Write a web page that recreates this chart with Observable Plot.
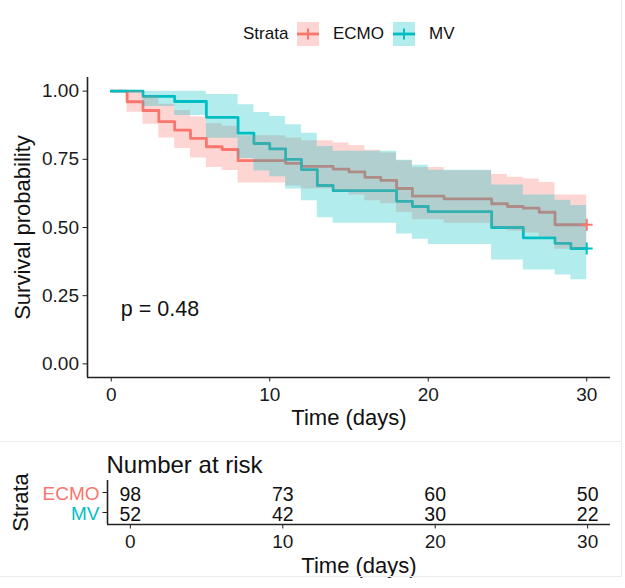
<!DOCTYPE html>
<html><head><meta charset="utf-8">
<script src="https://cdn.jsdelivr.net/npm/d3@7"></script>
<script src="https://cdn.jsdelivr.net/npm/@observablehq/plot@0.6"></script>
<style>
body{margin:0;background:#fff;}
#wrap{position:relative;width:625px;height:588px;font-family:"Liberation Sans",Arial,Helvetica,sans-serif;overflow:hidden;background:#fff;}
.abs{position:absolute;}
.lg{position:absolute;top:24px;line-height:20px;font-size:17px;color:#111;white-space:nowrap;}
.line{position:absolute;background:#ececec;z-index:5;}
</style></head>
<body><div id="wrap">
<div id="main" class="abs" style="left:0;top:0"></div>
<div id="table" class="abs" style="left:0;top:441px"></div>
<div id="legend" class="abs" style="left:0;top:0;width:625px;height:60px;z-index:4"></div>
<div class="line" style="left:0;top:441px;width:621px;height:1px"></div>
<div class="line" style="left:0;top:576px;width:621px;height:1px"></div>
<div class="line" style="left:621px;top:0;width:1px;height:577px"></div>
</div>
<script>
// ---- data ----
const strata = ["ECMO", "MV"];
const colors = ["#F8766D", "#00BFC4"];

const ecmoTime  = [0, 1, 2, 3, 4, 5, 6, 7, 8, 11, 12, 14, 15, 16, 17, 18, 19, 21, 24, 25, 26, 27, 28, 30];
const ecmoSurv  = [1, 0.961, 0.929, 0.888, 0.857, 0.827, 0.796, 0.786, 0.745, 0.735, 0.724, 0.714, 0.704, 0.684, 0.673, 0.643, 0.615, 0.605, 0.587, 0.577, 0.571, 0.556, 0.510, 0.510];
const ecmoLower = [1, 0.923, 0.879, 0.828, 0.790, 0.755, 0.720, 0.709, 0.663, 0.652, 0.641, 0.630, 0.619, 0.598, 0.587, 0.555, 0.528, 0.516, 0.496, 0.486, 0.480, 0.464, 0.420, 0.420];
const ecmoUpper = [1, 1.000, 0.982, 0.952, 0.929, 0.905, 0.880, 0.871, 0.836, 0.828, 0.818, 0.810, 0.801, 0.783, 0.773, 0.745, 0.720, 0.708, 0.694, 0.684, 0.678, 0.665, 0.619, 0.619];

const mvTime  = [0, 2, 4, 6, 8, 9, 10, 11, 12, 13, 14, 18, 19, 20, 24, 26, 28, 29, 30];
const mvSurv  = [1, 0.981, 0.962, 0.904, 0.846, 0.808, 0.788, 0.750, 0.712, 0.654, 0.635, 0.596, 0.577, 0.558, 0.500, 0.462, 0.442, 0.423, 0.423];
const mvLower = [1, 0.944, 0.911, 0.827, 0.753, 0.707, 0.686, 0.641, 0.598, 0.536, 0.516, 0.476, 0.457, 0.438, 0.381, 0.344, 0.326, 0.308, 0.308];
const mvUpper = [1, 1.000, 1.000, 0.988, 0.950, 0.922, 0.907, 0.877, 0.846, 0.797, 0.780, 0.747, 0.728, 0.710, 0.656, 0.619, 0.600, 0.581, 0.581];

const riskTimes = [0, 10, 20, 30];
const ecmoRisk = [98, 73, 60, 50];
const mvRisk = [52, 42, 30, 22];

const xTicks = [0, 10, 20, 30];
const yTicks = [0, 0.25, 0.5, 0.75, 1];
const pLabel = "p = 0.48";
const pPos = {x: 0.6, y: 0.2};

// ---- build ----
const font = '"Liberation Sans", Arial, Helvetica, sans-serif';
const rows = (name, t, s, lo, hi) => t.map((d, i) => ({strata: name, time: d, surv: s[i], lower: lo[i], upper: hi[i]}));
const ecmo = rows("ECMO", ecmoTime, ecmoSurv, ecmoLower, ecmoUpper);
const mv = rows("MV", mvTime, mvSurv, mvLower, mvUpper);
const axisCol = "#222";

const main = Plot.plot({
  width: 625, height: 440,
  marginTop: 77, marginBottom: 63, marginLeft: 87, marginRight: 15,
  style: {fontFamily: font, background: "transparent", color: "#1a1a1a", overflow: "visible"},
  x: {domain: [-1.5, 31.5]},
  y: {domain: [-0.05, 1.05]},
  marks: [
    Plot.line(ecmo, {x: "time", y: "surv", curve: "step-after", stroke: colors[0], strokeWidth: 2.8}),
    Plot.line(mv, {x: "time", y: "surv", curve: "step-after", stroke: colors[1], strokeWidth: 2.8}),
    Plot.areaY(ecmo, {x: "time", y1: "lower", y2: "upper", curve: "step-after", fill: colors[0], fillOpacity: 0.3}),
    Plot.areaY(mv, {x: "time", y1: "lower", y2: "upper", curve: "step-after", fill: colors[1], fillOpacity: 0.3}),
    Plot.dot([ecmo[ecmo.length - 1]], {x: "time", y: "surv", symbol: "plus", r: 3.9, stroke: colors[0], strokeWidth: 2}),
    Plot.dot([mv[mv.length - 1]], {x: "time", y: "surv", symbol: "plus", r: 3.9, stroke: colors[1], strokeWidth: 2}),
    Plot.ruleX([-1.5], {stroke: axisCol, strokeWidth: 1.6}),
    Plot.ruleY([-0.05], {stroke: axisCol, strokeWidth: 1.6}),
    Plot.axisY({ticks: yTicks, tickFormat: d3.format(".2f"), tickSize: 4.5, tickPadding: 4, fontSize: 19, label: null, stroke: axisCol, fill: "#1a1a1a"}),
    Plot.axisX({ticks: xTicks, tickSize: 4.5, tickPadding: 5, fontSize: 19, label: null, stroke: axisCol, fill: "#1a1a1a"}),
    Plot.text(["Survival probability"], {frameAnchor: "left", rotate: -90, textAnchor: "middle", lineAnchor: "middle", dx: -65, fontSize: 22, fill: "#111"}),
    Plot.text(["Time (days)"], {frameAnchor: "bottom", textAnchor: "middle", lineAnchor: "middle", dy: 40, fontSize: 22, fill: "#111"}),
    Plot.text([pPos], {x: "x", y: "y", text: () => pLabel, textAnchor: "start", fontSize: 21.5, fill: "#111"})
  ]
});
document.getElementById("main").appendChild(main);

// risk table
const riskRows = [];
strata.forEach((s, si) => riskTimes.forEach((t, i) => riskRows.push({strata: s, idx: si, time: t, n: (si === 0 ? ecmoRisk : mvRisk)[i]})));

const table = Plot.plot({
  width: 625, height: 147,
  marginTop: 39, marginBottom: 64, marginLeft: 107, marginRight: 15,
  style: {fontFamily: font, background: "transparent", color: "#1a1a1a", overflow: "visible"},
  x: {domain: [-1.5, 31.5]},
  y: {domain: [-0.6, strata.length - 1 + 0.6], reverse: true},
  marks: [
    Plot.ruleX([-1.5], {stroke: axisCol, strokeWidth: 1.6}),
    Plot.ruleY([strata.length - 1 + 0.6], {stroke: axisCol, strokeWidth: 1.6}),
    Plot.axisY({ticks: strata.map((s, i) => i), tickFormat: () => "", tickSize: 4.5, stroke: axisCol, label: null}),
    Plot.axisX({ticks: xTicks, tickSize: 4.5, tickPadding: 5, fontSize: 19, label: null, stroke: axisCol, fill: "#1a1a1a"}),
    Plot.text(riskRows, {x: "time", y: "idx", text: d => String(d.n), fontSize: 19.5, dy: 2, fill: "#111"}),
    ...strata.map((s, i) => Plot.text([{s, i}], {frameAnchor: "left", y: "i", text: "s", textAnchor: "end", lineAnchor: "middle", dx: -8, dy: 1, fontSize: 19, fill: colors[i]})),
    Plot.text(["Strata"], {frameAnchor: "left", rotate: -90, textAnchor: "middle", lineAnchor: "middle", dx: -86.5, fontSize: 22, fill: "#111"}),
    Plot.text(["Number at risk"], {frameAnchor: "top-left", textAnchor: "start", lineAnchor: "bottom", dx: -1, dy: -8, fontSize: 24, fill: "#111"}),
    Plot.text(["Time (days)"], {frameAnchor: "bottom", textAnchor: "middle", lineAnchor: "middle", dy: 41, fontSize: 22, fill: "#111"})
  ]
});
document.getElementById("table").appendChild(table);

// legend
const legend = document.getElementById("legend");
function addText(txt, left) {
  const s = document.createElement("div");
  s.className = "lg"; s.style.left = left + "px"; s.textContent = txt;
  legend.appendChild(s);
}
function addKey(color, left) {
  const ns = "http://www.w3.org/2000/svg";
  const svg = document.createElementNS(ns, "svg");
  svg.setAttribute("width", 22); svg.setAttribute("height", 24);
  svg.style.position = "absolute"; svg.style.left = left + "px"; svg.style.top = "22px";
  const r = document.createElementNS(ns, "rect");
  r.setAttribute("width", 22); r.setAttribute("height", 24); r.setAttribute("fill", color); r.setAttribute("fill-opacity", 0.3);
  const h = document.createElementNS(ns, "line");
  h.setAttribute("x1", 0); h.setAttribute("x2", 22); h.setAttribute("y1", 12); h.setAttribute("y2", 12);
  h.setAttribute("stroke", color); h.setAttribute("stroke-width", 2.8);
  const v = document.createElementNS(ns, "line");
  v.setAttribute("x1", 11); v.setAttribute("x2", 11); v.setAttribute("y1", 6.5); v.setAttribute("y2", 17.5);
  v.setAttribute("stroke", color); v.setAttribute("stroke-width", 2);
  svg.append(r, h, v);
  legend.appendChild(svg);
}
addText("Strata", 243);
addKey(colors[0], 297);
addText(strata[0], 333);
addKey(colors[1], 393);
addText(strata[1], 429);
</script>
</body></html>
